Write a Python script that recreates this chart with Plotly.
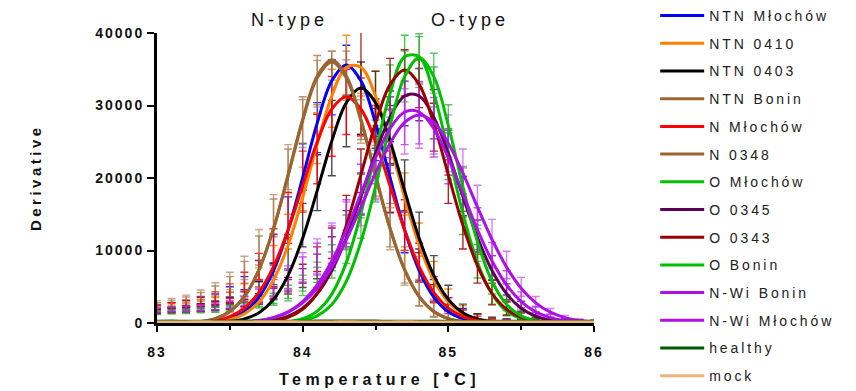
import plotly.graph_objects as go

# ---------------- data ----------------
temps = [83.0, 83.1, 83.2, 83.3, 83.4, 83.5, 83.6, 83.7, 83.8, 83.9, 84.0,
         84.1, 84.2, 84.3, 84.4, 84.5, 84.6, 84.7, 84.8, 84.9, 85.0,
         85.1, 85.2, 85.3, 85.4, 85.5, 85.6, 85.7, 85.8, 85.9, 86.0]

series_names = ["NTN Młochów", "NTN 0410", "NTN 0403", "NTN Bonin", "N Młochów", "N 0348",
                "O Młochów", "O 0345", "O 0343", "O Bonin", "N-Wi Bonin", "N-Wi Młochów",
                "healthy", "mock"]

line_colors = ["#0000FF", "#FF8000", "#000000", "#9A6530", "#FF0000", "#9A6530",
               "#00C000", "#5C0056", "#990000", "#00C000", "#AE10E8", "#AE10E8",
               "#005A00", "#F0B47A"]

bar_colors = ["rgba(0,0,255,0.85)", "rgba(255,128,0,0.85)", "rgba(30,30,30,0.8)",
              "rgba(154,101,48,0.7)", "rgba(255,0,0,0.85)", "rgba(170,120,70,0.65)",
              "rgba(0,190,0,0.75)", "rgba(92,0,86,0.8)", "rgba(153,0,0,0.85)",
              "rgba(40,160,40,0.7)", "rgba(174,16,232,0.7)", "rgba(190,60,235,0.65)",
              "rgba(0,90,0,0.6)", "rgba(240,180,122,0.6)"]

# fitted curves
fit_ntn_mlochow = [0, 0, 16, 61, 203, 602, 1563, 3585, 7230, 12830, 20053, 27583, 33400, 35600, 33400, 27583,
                   20053, 12830, 7230, 3585, 1563, 602, 203, 61, 16, 0, 0, 0, 0, 0, 0]
fit_ntn_0410 = [0, 3, 14, 50, 168, 487, 1264, 2903, 5928, 10740, 17284, 24688, 31318, 35270, 35270, 31318,
                24688, 17284, 10740, 5928, 2903, 1264, 487, 168, 50, 14, 3, 0, 0, 0, 0]
fit_ntn_0403 = [0, 0, 3, 15, 55, 185, 548, 1422, 3263, 6580, 11677, 18251, 25104, 30398, 32400, 30398,
                25104, 18251, 11677, 6580, 3263, 1422, 548, 185, 55, 15, 3, 0, 0, 0, 0]
fit_ntn_bonin = [4, 16, 62, 207, 613, 1594, 3655, 7373, 13083, 20448, 28125, 34057, 36300, 34057, 28125, 20448,
                 13083, 7373, 3655, 1594, 613, 207, 62, 16, 4, 0, 0, 0, 0, 0, 0]
fit_n_mlochow = [3, 9, 37, 122, 346, 892, 2050, 4221, 7781, 12826, 18923, 24982, 29515, 31200, 29515, 24982,
                 18923, 12826, 7781, 4221, 2050, 892, 346, 122, 37, 9, 3, 0, 0, 0, 0]
fit_n_0348 = [4, 16, 62, 205, 608, 1581, 3625, 7313, 12976, 20280, 27900, 33780, 36000, 33780, 27900, 20280,
              12976, 7313, 3625, 1581, 608, 205, 62, 16, 4, 0, 0, 0, 0, 0, 0]
fit_o_mlochow = [0, 0, 0, 0, 0, 0, 0, 11, 49, 180, 583, 1642, 3991, 8363, 15113, 23555,
                 31667, 36716, 36716, 31667, 23555, 15113, 8363, 3991, 1642, 583, 180, 49, 11, 0, 0]
fit_o_0345 = [0, 0, 0, 1, 4, 15, 51, 146, 387, 932, 2032, 4029, 7237, 11792, 17429, 23363,
              28400, 31316, 31316, 28400, 23363, 17429, 11792, 7237, 4029, 2032, 932, 387, 146, 51, 15]
fit_o_0343 = [0, 0, 0, 0, 0, 7, 26, 91, 283, 778, 1895, 4104, 7894, 13482, 20437, 27512,
              32886, 34900, 32886, 27512, 20437, 13482, 7894, 4104, 1895, 778, 283, 91, 26, 7, 0]
fit_o_bonin = [0, 0, 0, 0, 0, 0, 0, 0, 22, 92, 322, 977, 2555, 5761, 11207, 18809,
               27227, 33990, 36600, 33990, 27227, 18809, 11207, 5761, 2555, 977, 322, 92, 22, 5, 0]
fit_nwi_bonin = [0, 0, 2, 5, 17, 50, 132, 326, 738, 1541, 2961, 5242, 8552, 12865, 17831, 22779,
                 26822, 29103, 29103, 26822, 22779, 17831, 12865, 8552, 5242, 2961, 1541, 738, 326, 132, 50]
fit_nwi_mlochow = [0, 1, 3, 9, 23, 60, 149, 344, 743, 1490, 2772, 4793, 7706, 11517, 15997, 20661,
                   24800, 27670, 28700, 27670, 24800, 20661, 15997, 11517, 7706, 4793, 2772, 1490, 743, 344, 149]
fit_healthy = [250, 260, 250, 240, 250, 260, 270, 260, 250, 240, 250, 260, 270, 280, 270, 260,
               250, 240, 250, 260, 250, 240, 230, 240, 250, 240, 230, 220, 230, 240, 230]
fit_mock = [150, 140, 150, 160, 150, 140, 150, 160, 170, 160, 150, 140, 150, 160, 150, 140,
            150, 160, 150, 140, 130, 140, 150, 140, 130, 140, 150, 140, 130, 140, 150]

# measured means
mean_ntn_mlochow = [2200, 2500, 2700, 3100, 3500, 4300, 5500, 7200, 10200, 14800, 21500, 26800, 32500, 34800, 34000, 26000,
                    18500, 12500, 8000, 4500, 2600, 1500, 900, 600, 450, 400, 350, 300, 300, 250, 250]
mean_ntn_0410 = [2000, 2300, 2500, 2800, 3100, 3600, 4500, 6300, 8900, 12600, 18500, 25500, 31000, 35500, 35800, 31000,
                 24000, 17800, 11500, 6800, 3600, 1800, 900, 500, 350, 300, 280, 250, 250, 230, 220]
mean_ntn_0403 = [1700, 1900, 2100, 2300, 2600, 3000, 3600, 4700, 6800, 9500, 13500, 19500, 25500, 29800, 31000, 30200,
                 26000, 19000, 12500, 7300, 3900, 1900, 900, 450, 300, 250, 230, 220, 200, 200, 200]
mean_ntn_bonin = [2400, 2700, 3100, 3600, 4300, 5300, 7000, 10000, 14500, 21000, 28000, 33500, 35500, 34500, 28500, 21000,
                  13500, 8000, 4200, 2100, 1000, 500, 350, 300, 250, 250, 230, 220, 200, 200, 200]
mean_n_mlochow = [2100, 2400, 2700, 3100, 3600, 4400, 5700, 7800, 10500, 14500, 19500, 24000, 28500, 30500, 29800, 25500,
                  19500, 13500, 8300, 4600, 2400, 1200, 600, 400, 300, 250, 230, 220, 200, 200, 200]
mean_n_0348 = [2600, 2900, 3300, 3900, 4700, 5800, 7600, 10800, 15000, 21500, 27500, 33000, 35000, 33500, 27800, 20500,
               13000, 7600, 4000, 1900, 900, 450, 320, 280, 250, 240, 230, 220, 210, 200, 200]
mean_o_mlochow = [1500, 1600, 1700, 1800, 1900, 2100, 2400, 2800, 3400, 4300, 5500, 7000, 9000, 12500, 17500, 24500,
                  32000, 36500, 36000, 31500, 23000, 15000, 8500, 4300, 2000, 900, 450, 300, 250, 220, 200]
mean_o_0345 = [1600, 1700, 1800, 1900, 2100, 2300, 2700, 3200, 4000, 5000, 6200, 7800, 9800, 13000, 17800, 23500,
               28500, 31000, 31500, 28800, 23500, 17500, 12000, 7600, 4300, 2300, 1100, 550, 350, 280, 250]
mean_o_0343 = [1700, 1800, 1900, 2000, 2200, 2400, 2800, 3400, 4200, 5300, 6800, 8800, 11000, 15000, 21000, 27500,
               33000, 34500, 33000, 27000, 19500, 12800, 7500, 4000, 2000, 900, 450, 300, 250, 220, 200]
mean_o_bonin = [1400, 1500, 1600, 1700, 1800, 1900, 2200, 2600, 3100, 3900, 4900, 6300, 8000, 10500, 14500, 20000,
                27500, 34000, 36500, 33500, 26500, 18500, 11000, 5800, 2800, 1200, 500, 300, 250, 220, 200]
mean_nwi_bonin = [1700, 1800, 1900, 2000, 2200, 2500, 3000, 3800, 4800, 6000, 7300, 8800, 10800, 14000, 18500, 23000,
                  27000, 29000, 29000, 27000, 23000, 18000, 13000, 8800, 5500, 3200, 1700, 850, 450, 300, 250]
mean_nwi_mlochow = [1800, 1900, 2000, 2100, 2300, 2600, 3100, 3900, 5000, 6300, 7700, 9200, 11000, 13500, 17000, 21000,
                    25000, 27800, 28500, 27500, 24800, 20500, 16000, 11800, 8000, 5000, 2900, 1600, 800, 400, 250]

# standard deviations
sd_ntn_mlochow = [300, 350, 400, 450, 500, 700, 900, 1400, 2000, 2600, 3200, 3600, 3800, 3500, 8000, 3600,
                  3300, 2800, 2200, 1500, 900, 500, 300, 200, 150, 100, 100, 100, 100, 100, 100]
sd_ntn_0410 = [300, 350, 400, 450, 550, 700, 900, 1300, 1800, 2400, 3000, 3500, 4000, 4200, 4500, 3800,
               3400, 2900, 2300, 1700, 1100, 600, 350, 250, 150, 120, 100, 100, 100, 100, 100]
sd_ntn_0403 = [250, 300, 300, 350, 400, 500, 700, 1000, 1500, 2200, 3000, 4000, 5200, 5500, 5000, 4500,
               4000, 3500, 2800, 2000, 1300, 700, 400, 250, 150, 100, 100, 100, 100, 100, 100]
sd_ntn_bonin = [400, 450, 500, 600, 800, 1100, 1500, 2000, 2600, 3000, 3200, 3400, 2000, 3000, 3200, 3500,
                3000, 2500, 1800, 1200, 700, 400, 250, 200, 150, 100, 100, 100, 100, 100, 100]
sd_n_mlochow = [350, 400, 450, 550, 700, 1000, 1300, 1800, 2500, 3500, 4200, 4800, 5500, 4500, 4000, 4500,
                4200, 3500, 2700, 1800, 1100, 600, 350, 200, 150, 100, 100, 100, 100, 100, 100]
sd_n_0348 = [450, 500, 550, 650, 850, 1200, 1600, 2100, 2700, 3100, 3300, 3200, 2500, 2800, 3000, 3300,
             2900, 2400, 1700, 1100, 650, 380, 250, 200, 150, 100, 100, 100, 100, 100, 100]
sd_o_mlochow = [250, 250, 300, 300, 350, 400, 450, 550, 700, 900, 1100, 1400, 1800, 2400, 3000, 3500,
                3600, 3200, 3500, 3800, 3200, 2800, 2300, 1700, 1000, 500, 300, 200, 150, 100, 100]
sd_o_0345 = [250, 280, 300, 320, 350, 400, 500, 650, 800, 1000, 1300, 1700, 2100, 2500, 2900, 3300,
             3500, 3800, 3600, 3400, 3100, 2700, 2200, 1700, 1100, 700, 400, 250, 150, 100, 100]
sd_o_0343 = [250, 280, 300, 320, 350, 400, 500, 650, 800, 1000, 1300, 1700, 2100, 2600, 3000, 3400,
             3500, 3200, 3300, 3300, 3000, 2600, 2000, 1500, 900, 500, 300, 200, 150, 100, 100]
sd_o_bonin = [250, 250, 280, 300, 320, 380, 450, 550, 650, 850, 1100, 1400, 1800, 2300, 2800, 3300,
              3700, 3500, 3400, 3700, 3600, 3100, 2500, 1800, 1100, 600, 300, 200, 150, 100, 100]
sd_nwi_bonin = [300, 300, 320, 350, 400, 500, 650, 900, 1200, 1500, 1800, 2200, 2600, 3000, 3400, 3800,
                4200, 4400, 4300, 4100, 3800, 3400, 2900, 2300, 1700, 1100, 600, 350, 200, 150, 100]
sd_nwi_mlochow = [300, 320, 350, 380, 450, 550, 700, 1000, 1300, 1600, 2000, 2400, 2800, 3200, 3600, 4000,
                  4300, 4500, 4400, 4200, 3900, 3500, 3000, 2500, 1900, 1300, 750, 400, 250, 150, 100]

fits = [fit_ntn_mlochow, fit_ntn_0410, fit_ntn_0403, fit_ntn_bonin, fit_n_mlochow, fit_n_0348,
        fit_o_mlochow, fit_o_0345, fit_o_0343, fit_o_bonin, fit_nwi_bonin, fit_nwi_mlochow,
        fit_healthy, fit_mock]
means = [mean_ntn_mlochow, mean_ntn_0410, mean_ntn_0403, mean_ntn_bonin, mean_n_mlochow, mean_n_0348,
         mean_o_mlochow, mean_o_0345, mean_o_0343, mean_o_bonin, mean_nwi_bonin, mean_nwi_mlochow]
sds = [sd_ntn_mlochow, sd_ntn_0410, sd_ntn_0403, sd_ntn_bonin, sd_n_mlochow, sd_n_0348,
       sd_o_mlochow, sd_o_0345, sd_o_0343, sd_o_bonin, sd_nwi_bonin, sd_nwi_mlochow]

x_ticks = [83, 84, 85, 86]
x_minor_ticks = [83.5, 84.5, 85.5]
y_ticks = [0, 10000, 20000, 30000, 40000]


def spaced(text, px):
    return f'<span style="letter-spacing:{px}px">{text}</span>'


FONT = "Liberation Sans, Arial, sans-serif"

fig = go.Figure()

# error bars (drawn first)
for i, (m, s) in enumerate(zip(means, sds)):
    fig.add_trace(go.Scatter(
        x=temps, y=m, mode="markers",
        marker=dict(size=1, color="rgba(0,0,0,0)"),
        error_y=dict(type="data", array=s, visible=True, color=bar_colors[i], thickness=1.4, width=4),
        legendgroup=series_names[i], showlegend=False, hoverinfo="skip"))

# fitted curves
for i, f in enumerate(fits):
    fig.add_trace(go.Scatter(
        x=temps, y=f, mode="lines",
        line=dict(color=line_colors[i], width=3, shape="spline", smoothing=1.0),
        name=spaced(series_names[i], 2.9), legendgroup=series_names[i], showlegend=True))

fig.update_layout(
    width=856, height=391,
    margin=dict(l=157, r=262, t=33, b=68, autoexpand=False),
    paper_bgcolor="white", plot_bgcolor="white",
    font=dict(family=FONT, color="#111111"),
    legend=dict(x=1.14, xref="paper", y=1.006, yref="container", xanchor="left", yanchor="top",
                font=dict(family=FONT, size=14, color="#222222"),
                tracegroupgap=6.5, itemwidth=44, traceorder="grouped",
                maxheight=800, bgcolor="rgba(0,0,0,0)"),
    showlegend=True,
)

fig.update_xaxes(
    range=[83, 86], showline=True, linecolor="black", linewidth=3, mirror=False,
    ticks="outside", ticklen=6, tickwidth=2, tickcolor="black",
    tickvals=x_ticks, ticktext=[spaced(str(t), 2) for t in x_ticks],
    tickfont=dict(family=FONT, size=14, color="#111111", weight="bold"),
    ticklabelstandoff=8,
    minor=dict(tickvals=x_minor_ticks, ticks="outside", ticklen=4, tickwidth=2, tickcolor="black"),
    showgrid=False, zeroline=False)

fig.update_yaxes(
    range=[0, 40000], showline=True, linecolor="black", linewidth=3,
    ticks="outside", ticklen=7, tickwidth=2, tickcolor="black",
    tickvals=y_ticks, ticktext=[spaced(str(t), 2) for t in y_ticks],
    tickfont=dict(family=FONT, size=14, color="#111111", weight="bold"),
    showgrid=False, zeroline=False)

annotations = [
    dict(text=spaced("N-type", 4), x=0.304, y=1.045, xref="paper", yref="paper",
         xanchor="center", yanchor="middle",
         showarrow=False, font=dict(family=FONT, size=18, color="#111111")),
    dict(text=spaced("O-type", 4), x=0.716, y=1.045, xref="paper", yref="paper",
         xanchor="center", yanchor="middle",
         showarrow=False, font=dict(family=FONT, size=18, color="#111111")),
    dict(text=spaced("Derivative", 3.5), x=-0.279, y=0.5, xref="paper", yref="paper",
         xanchor="center", yanchor="middle",
         textangle=-90, showarrow=False, font=dict(family=FONT, size=15, color="#111111", weight="bold")),
    dict(text=spaced("Temperature [<sup>●</sup>C]", 4.5), x=0.51, y=-0.19, xref="paper", yref="paper",
         xanchor="center", yanchor="middle",
         showarrow=False, font=dict(family=FONT, size=16, color="#111111", weight="bold")),
]
fig.update_layout(annotations=annotations)

fig.write_html("out.html")
